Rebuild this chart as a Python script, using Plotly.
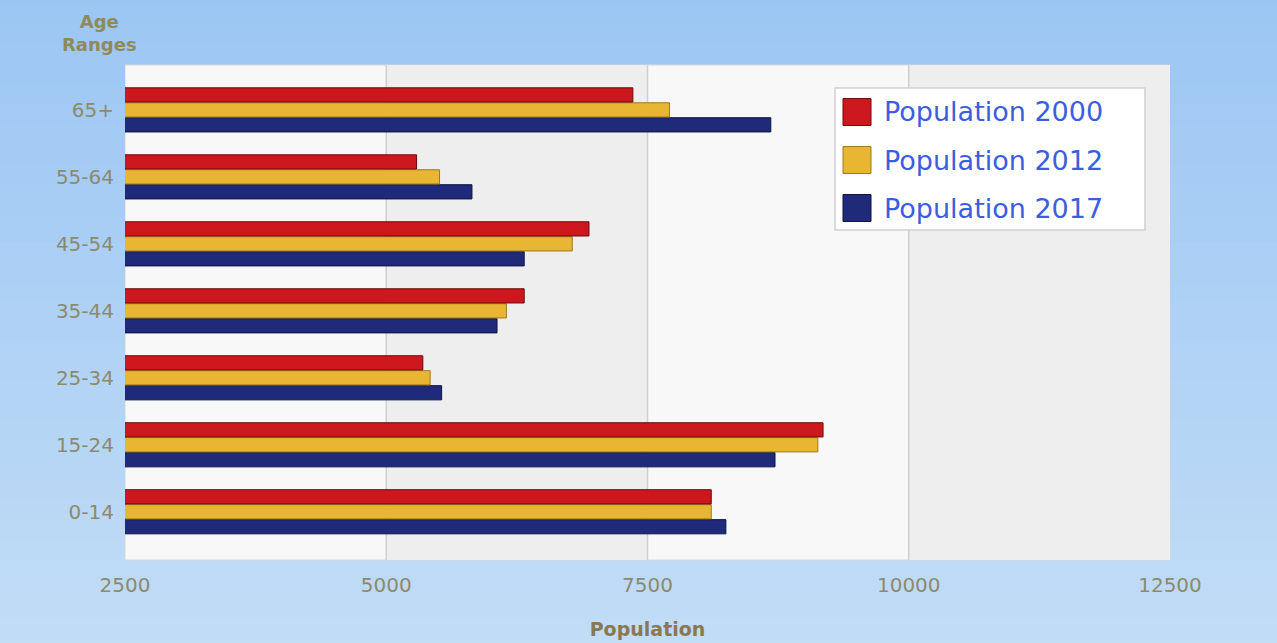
import plotly.graph_objects as go

# Age ranges (bottom to top) and population counts per survey year
age_ranges = ["0-14", "15-24", "25-34", "35-44", "45-54", "55-64", "65+"]
pop_2000 = [8110, 9180, 5350, 6320, 6940, 5290, 7360]
pop_2012 = [8110, 9130, 5420, 6150, 6780, 5510, 7710]
pop_2017 = [8250, 8720, 5530, 6060, 6320, 5820, 8680]
series_names = ["Population 2000", "Population 2012", "Population 2017"]

x_ticks = [2500, 5000, 7500, 10000, 12500]

fills = ["#cc181c", "#e8b632", "#1f2b7a"]
edges = ["#6e0a0c", "#9c7a1c", "#0d1440"]
series_vals = [pop_2000, pop_2012, pop_2017]

fig = go.Figure()

# Horizontal grouped bars; plotly places group members bottom-up, so add in reverse
for name, vals, color, line in reversed(list(zip(series_names, series_vals, fills, edges))):
    fig.add_trace(go.Bar(
        y=age_ranges, x=vals, orientation="h", name=name,
        marker=dict(color=color, line=dict(color=line, width=1)),
        showlegend=False,
    ))

# Plot geometry in pixels, used to place the drawn legend box
PL, PR, PT, PB = 125, 1170, 65, 560
def px_x(v):
    return (v - PL) / (PR - PL)
def px_y(v):
    return (PB - v) / (PB - PT)

shapes = []
# Vertical background gradient of the page
top = (154, 197, 244)
bot = (200, 224, 246)
n = 40
for i in range(n):
    t = i / (n - 1)
    c = tuple(round(top[k] + (bot[k] - top[k]) * t) for k in range(3))
    shapes.append(dict(type="rect", xref="paper", yref="paper",
                       x0=-0.2, x1=1.2, y0=1.2 - (i + 1) * 1.6 / n, y1=1.2 - i * 1.6 / n + 0.001,
                       fillcolor="rgb(%d,%d,%d)" % c, line=dict(width=0), layer="below"))
# Plot area background with alternating bands
shapes.append(dict(type="rect", xref="x", yref="paper", x0=2500, x1=12500, y0=0, y1=1,
                   fillcolor="#f8f8f8", line=dict(color="#d8d8d8", width=1), layer="below"))
for a, b in [(5000, 7500), (10000, 12500)]:
    shapes.append(dict(type="rect", xref="x", yref="paper", x0=a, x1=b, y0=0, y1=1,
                       fillcolor="#eeeeee", line=dict(width=0), layer="below"))
for g in [5000, 7500, 10000]:
    shapes.append(dict(type="line", xref="x", yref="paper", x0=g, x1=g, y0=0, y1=1,
                       line=dict(color="#cfcfcf", width=1.5), layer="below"))

annotations = []
# Legend: white box, large colour swatches and blue labels
shapes.append(dict(type="rect", xref="paper", yref="paper",
                   x0=px_x(835), x1=px_x(1145), y0=px_y(230), y1=px_y(88),
                   fillcolor="#ffffff", line=dict(color="#d0d0d0", width=1.5), layer="above"))
for i, (name, color, line) in enumerate(zip(series_names, fills, edges)):
    cy = 112 + 48 * i
    shapes.append(dict(type="rect", xref="paper", yref="paper",
                       x0=px_x(843), x1=px_x(871), y0=px_y(cy + 13.5), y1=px_y(cy - 13.5),
                       fillcolor=color, line=dict(color=line, width=1), layer="above"))
    annotations.append(dict(text=name, xref="paper", yref="paper", x=px_x(882), y=px_y(cy),
                            xanchor="left", yanchor="middle", showarrow=False,
                            font=dict(family="DejaVu Sans, sans-serif", size=27, color="#3a5ee0")))

annotations.append(dict(text="<b>Age<br>Ranges</b>", xref="paper", yref="paper",
                        x=px_x(99), y=px_y(33), xanchor="center", yanchor="middle",
                        showarrow=False, align="center",
                        font=dict(family="DejaVu Sans, sans-serif", size=18, color="#8f8a58")))

tick_font = dict(family="DejaVu Sans, sans-serif", size=20, color="#8c8a6e")

fig.update_layout(
    width=1277, height=643,
    margin=dict(l=PL, r=1277 - PR, t=PT, b=643 - PB),
    paper_bgcolor="#b4d4f5",
    plot_bgcolor="rgba(0,0,0,0)",
    barmode="group", bargap=0.33, bargroupgap=0.05,
    showlegend=False,
    shapes=shapes,
    annotations=annotations,
    xaxis=dict(range=[2500, 12500], tickvals=x_ticks, ticktext=[str(v) for v in x_ticks],
               showgrid=False, zeroline=False, tickfont=tick_font, ticks="",
               ticklabelstandoff=11, automargin=False,
               title=dict(text="<b>Population</b>",
                          font=dict(family="DejaVu Sans, sans-serif", size=19, color="#8a7852"),
                          standoff=26)),
    yaxis=dict(showgrid=False, zeroline=False, tickfont=tick_font, ticks="",
               ticklabelstandoff=10, range=[-0.72, 6.67], automargin=False),
)

fig.write_html("out.html")
